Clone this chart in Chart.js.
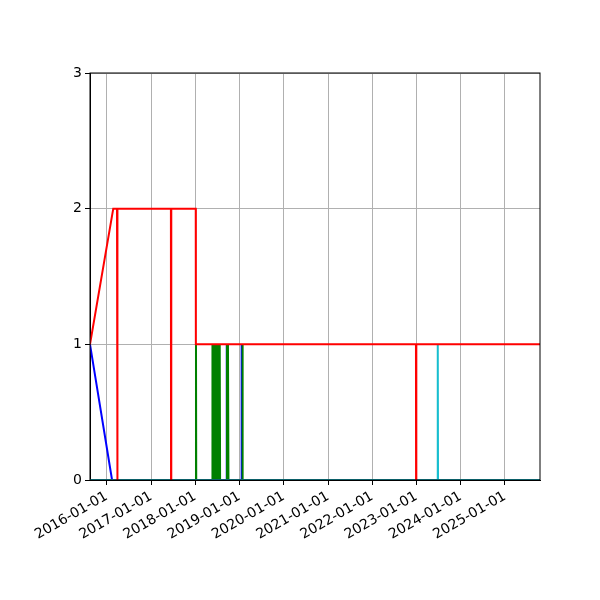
<!DOCTYPE html>
<html>
<head>
<meta charset="utf-8">
<script src="https://cdn.jsdelivr.net/npm/chart.js@4"></script>
<style>
  body { margin: 0; background: #fff; }
</style>
</head>
<body>
<canvas id="myChart" width="600" height="600"></canvas>
<script>
// x ticks (yearly) and y ticks
const xTickLabels = ['2016-01-01', '2017-01-01', '2018-01-01', '2019-01-01', '2020-01-01',
  '2021-01-01', '2022-01-01', '2023-01-01', '2024-01-01', '2025-01-01']
const yTicks = [0, 1, 2, 3]
const xStart = '2015-08-16'
const xEnd = '2025-10-17'

// red
const redDates = ['2015-08-16', '2016-02-24', '2016-03-26', '2016-03-28', '2016-03-31',
  '2017-06-14', '2017-06-15', '2017-06-17', '2018-01-05', '2018-01-06',
  '2022-12-28', '2022-12-29', '2022-12-31', '2025-10-17']
const redValues = [1, 2, 2, 0, 2, 2, 0, 2, 2, 1, 1, 0, 1, 1]

// cyan
const cyanDates = ['2015-08-16', '2023-06-25', '2023-06-26', '2023-06-28', '2025-10-17']
const cyanValues = [0, 0, 1, 0, 0]

// green
const greenDates = ['2015-08-16', '2018-01-06', '2018-01-07', '2018-01-09',
  '2018-05-20', '2018-05-23', '2018-05-28', '2018-06-02', '2018-06-07', '2018-06-12',
  '2018-06-17', '2018-06-22', '2018-06-27', '2018-07-02', '2018-07-07', '2018-07-12',
  '2018-07-17', '2018-07-22', '2018-07-25',
  '2018-09-19', '2018-09-20', '2018-09-24', '2018-09-28', '2018-10-02', '2018-10-04',
  '2019-01-25', '2019-01-26', '2019-01-28', '2025-10-17']
const greenValues = [0, 0, 1, 0,
  0, 1, 0, 1, 0, 1,
  0, 1, 0, 1, 0, 1,
  0, 1, 0,
  0, 1, 0, 1, 0, 0,
  0, 1, 0, 0]

// blue
const blueDates = ['2015-08-16', '2016-02-14', '2018-09-16', '2018-09-17', '2018-09-19',
  '2019-01-17', '2019-01-18', '2019-01-20', '2025-10-17']
const blueValues = [1, 0, 0, 1, 0, 0, 1, 0, 0]

function toPoints(dates, values) {
  return dates.map((d, i) => ({ x: Date.parse(d), y: values[i] }))
}

function line(label, dates, values, color) {
  return {
    label: label,
    data: toPoints(dates, values),
    borderColor: color,
    backgroundColor: color,
    borderWidth: 2,
    pointRadius: 0,
    tension: 0,
    fill: false
  }
}

const frame = {
  id: 'frame',
  afterDraw(chart) {
    const a = chart.chartArea
    const c = chart.ctx
    c.save()
    c.strokeStyle = '#000'
    c.lineWidth = 1
    c.strokeRect(a.left, a.top, a.right - a.left, a.bottom - a.top)
    c.restore()
  }
}

const font = { family: 'DejaVu Sans', size: 14 }

const ctx = document.getElementById('myChart')

new Chart(ctx, {
  type: 'line',
  data: {
    datasets: [
      line('red', redDates, redValues, '#ff0000'),
      line('cyan', cyanDates, cyanValues, '#17becf'),
      line('green', greenDates, greenValues, '#008000'),
      line('blue', blueDates, blueValues, '#0000ff')
    ]
  },
  options: {
    responsive: false,
    animation: false,
    layout: { padding: { top: 73, right: 60, left: 0, bottom: 0 } },
    plugins: {
      legend: { display: false },
      tooltip: { enabled: false }
    },
    scales: {
      x: {
        type: 'linear',
        min: Date.parse(xStart),
        max: Date.parse(xEnd),
        afterBuildTicks: (axis) => {
          axis.ticks = xTickLabels.map(d => ({ value: Date.parse(d) }))
        },
        afterFit: (scale) => { scale.height = 120 },
        ticks: {
          autoSkip: false,
          minRotation: 30,
          maxRotation: 30,
          padding: 3,
          color: '#000',
          font: font,
          callback: (v) => new Date(v).toISOString().slice(0, 10)
        },
        grid: { color: '#b0b0b0', lineWidth: 1, tickLength: 5, tickColor: '#000' },
        border: { color: '#000', width: 1 }
      },
      y: {
        min: yTicks[0],
        max: yTicks[yTicks.length - 1],
        afterBuildTicks: (axis) => {
          axis.ticks = yTicks.map(v => ({ value: v }))
        },
        afterFit: (scale) => { scale.width = 90 },
        ticks: { padding: 3, color: '#000', font: font },
        grid: { color: '#b0b0b0', lineWidth: 1, tickLength: 5, tickColor: '#000' },
        border: { color: '#000', width: 1 }
      }
    }
  },
  plugins: [frame]
})
</script>
</body>
</html>
